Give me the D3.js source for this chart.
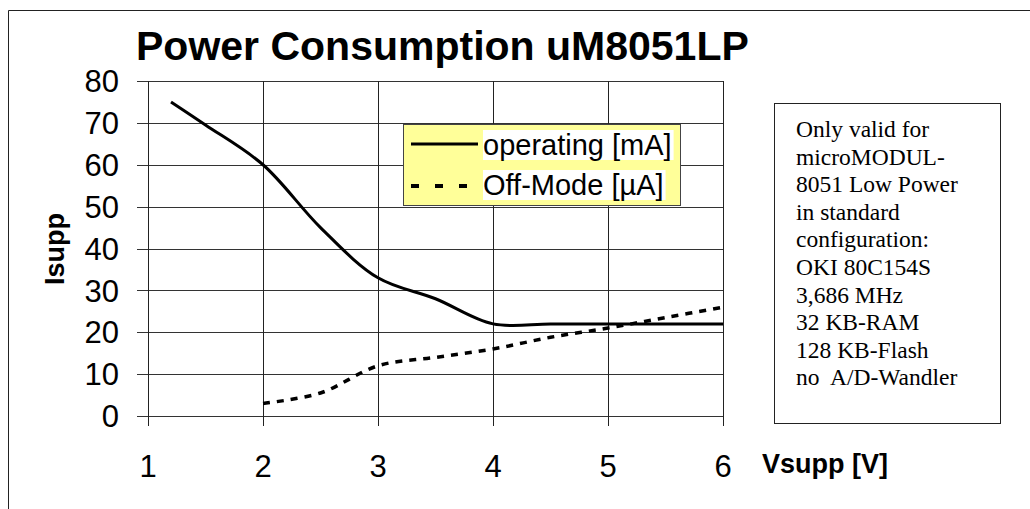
<!DOCTYPE html>
<html>
<head>
<meta charset="utf-8">
<script src="https://cdn.jsdelivr.net/npm/d3@7"></script>
<style>
  html, body { margin: 0; padding: 0; background: #fff; }
  svg { display: block; }
</style>
</head>
<body>
<svg id="chart" width="1030" height="509"></svg>
<script>
// ---- data ----
const titleText = "Power Consumption uM8051LP";
const xTicks = [1, 2, 3, 4, 5, 6];
const yTicks = [0, 10, 20, 30, 40, 50, 60, 70, 80];
const operatingX = [1.2, 1.5, 2, 2.5, 3, 3.5, 4, 4.5, 5, 5.5, 6];
const operatingY = [75, 69.5, 60, 45, 33, 28, 22, 22, 22, 22, 22];
const offModeX = [2, 2.5, 3, 3.5, 4, 4.5, 5, 5.5, 6];
const offModeY = [3, 5.5, 12, 14, 16, 18.8, 21, 23.5, 26];
const seriesNames = ["operating [mA]", "Off-Mode [\u00b5A]"];
const noteLines = ["Only valid for", "microMODUL-", "8051 Low Power", "in standard",
  "configuration:", "OKI 80C154S", "3,686 MHz", "32 KB-RAM", "128 KB-Flash", "no  A/D-Wandler"];

const svg = d3.select("#chart");
const sans = "'Liberation Sans', Arial, sans-serif";
const serif = "'Liberation Serif', 'Times New Roman', serif";

// outer border (open to right/bottom)
svg.append("path").attr("d", "M8.5,509 L8.5,10.5 L1030,10.5")
  .attr("fill", "none").attr("stroke", "#222").attr("stroke-width", 1);

const x = d3.scaleLinear().domain([1, 6]).range([148, 723]);
const y = d3.scaleLinear().domain([0, 80]).range([416, 81]);

// grid
const g = svg.append("g").attr("shape-rendering", "crispEdges");
g.selectAll(".hg").data(yTicks).join("line")
  .attr("x1", 137).attr("x2", x(6))
  .attr("y1", d => Math.round(y(d)) + 0.5).attr("y2", d => Math.round(y(d)) + 0.5)
  .attr("stroke", "#333").attr("stroke-width", 1);
g.selectAll(".vg").data(xTicks).join("line")
  .attr("x1", d => Math.round(x(d)) + 0.5).attr("x2", d => Math.round(x(d)) + 0.5)
  .attr("y1", y(80)).attr("y2", 426)
  .attr("stroke", "#222").attr("stroke-width", 1);

// tick labels
svg.selectAll(".yl").data(yTicks).join("text")
  .attr("x", 119).attr("y", d => y(d)).attr("dy", "0.36em")
  .attr("text-anchor", "end").attr("font-family", sans).attr("font-size", 31)
  .text(d => d);
svg.selectAll(".xl").data(xTicks).join("text")
  .attr("x", d => x(d)).attr("y", 477)
  .attr("text-anchor", "middle").attr("font-family", sans).attr("font-size", 31)
  .text(d => d);

// title and axis titles
svg.append("text").attr("x", 136).attr("y", 60)
  .attr("font-family", sans).attr("font-weight", "bold").attr("font-size", 41)
  .text(titleText);
svg.append("text").attr("transform", "translate(64,249) rotate(-90)")
  .attr("text-anchor", "middle")
  .attr("font-family", sans).attr("font-weight", "bold").attr("font-size", 27)
  .text("Isupp");
svg.append("text").attr("x", 762).attr("y", 473)
  .attr("font-family", sans).attr("font-weight", "bold").attr("font-size", 27)
  .text("Vsupp [V]");

// series
const line = d3.line().x(d => x(d[0])).y(d => y(d[1])).curve(d3.curveCatmullRom.alpha(0.5));
const opData = operatingX.map((v, i) => [v, operatingY[i]]);
const offData = offModeX.map((v, i) => [v, offModeY[i]]);
svg.append("path").attr("d", line(offData)).attr("fill", "none")
  .attr("stroke", "#000").attr("stroke-width", 3.5).attr("stroke-dasharray", "7,7");
svg.append("path").attr("d", line(opData)).attr("fill", "none")
  .attr("stroke", "#000").attr("stroke-width", 3);

// legend
const lg = svg.append("g");
lg.append("rect").attr("x", 403.5).attr("y", 124.5).attr("width", 277).attr("height", 81)
  .attr("fill", "#ffff99").attr("stroke", "#444").attr("stroke-width", 1);
const legY = [144, 186];
const legBase = [155, 195];
seriesNames.forEach((name, i) => {
  const t = lg.append("text").attr("x", 483).attr("y", legBase[i])
    .attr("font-family", sans).attr("font-size", 29).text(name);
  const bb = t.node().getBBox();
  lg.insert("rect", "text").attr("x", bb.x).attr("y", bb.y + 1)
    .attr("width", bb.width + 2).attr("height", bb.height - 2).attr("fill", "#fff");
  const ln = lg.append("line").attr("x1", 411).attr("x2", 478)
    .attr("y1", legY[i]).attr("y2", legY[i]).attr("stroke", "#000");
  if (i === 0) ln.attr("stroke-width", 3);
  else ln.attr("stroke-width", 4).attr("stroke-dasharray", "8,16");
});

// note box
svg.append("rect").attr("x", 774.5).attr("y", 103.5).attr("width", 226).attr("height", 320)
  .attr("fill", "#fff").attr("stroke", "#222").attr("stroke-width", 1);
svg.selectAll(".note").data(noteLines).join("text")
  .attr("x", 796).attr("y", (d, i) => 137 + i * 27.6)
  .attr("font-family", serif).attr("font-size", 23.5)
  .attr("xml:space", "preserve").style("white-space", "pre")
  .text(d => d);
</script>
</body>
</html>
